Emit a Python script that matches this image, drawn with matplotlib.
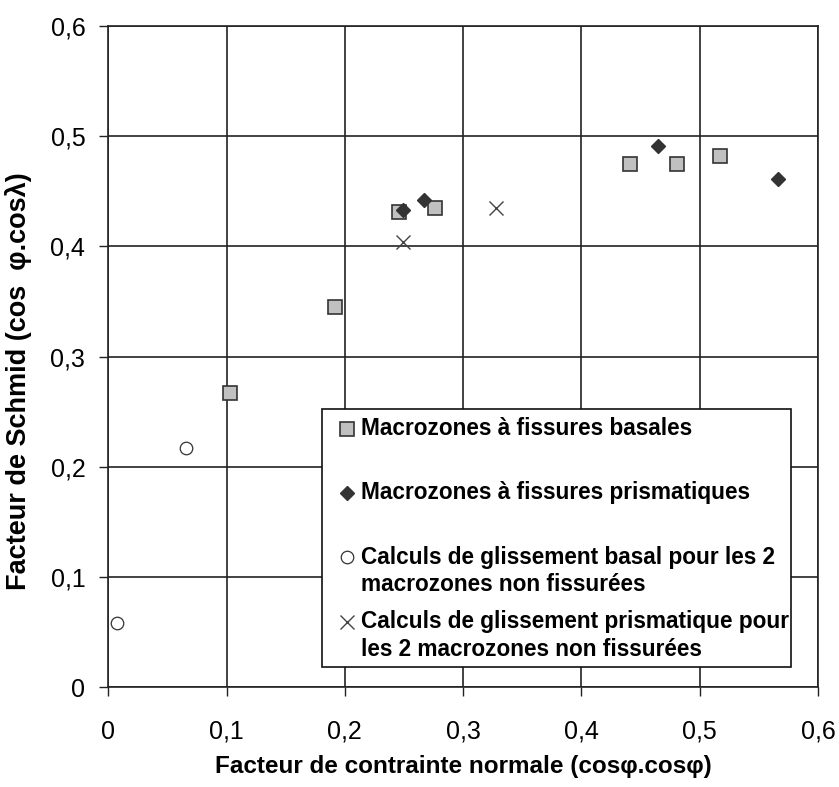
import matplotlib.pyplot as plt
from matplotlib.patches import Rectangle
from matplotlib.ticker import FuncFormatter

plt.rcParams["font.family"] = ["Liberation Sans", "DejaVu Sans"]

# -------------------------
# Data
# -------------------------

basal_x = [0.103, 0.192, 0.246, 0.276, 0.441, 0.481, 0.517]
basal_y = [0.267, 0.345, 0.431, 0.435, 0.475, 0.475, 0.482]

prism_x = [0.249, 0.267, 0.465, 0.566]
prism_y = [0.433, 0.442, 0.491, 0.461]

calc_basal_x = [0.007, 0.066]
calc_basal_y = [0.058, 0.217]

calc_prism_x = [0.249, 0.328]
calc_prism_y = [0.404, 0.435]

ticks = [0, 0.1, 0.2, 0.3, 0.4, 0.5, 0.6]

legend_lines = [
    ["Macrozones à fissures basales"],
    ["Macrozones à fissures prismatiques"],
    ["Calculs de glissement basal pour les 2", "macrozones non fissurées"],
    ["Calculs de glissement prismatique pour", "les 2 macrozones non fissurées"],
]

# -------------------------
# Figure
# -------------------------

fig = plt.figure(figsize=(8.39, 7.87), dpi=100)
ax = fig.add_axes([0.129, 0.1267, 0.8459, 0.8403])

ax.set_xlim(0, 0.6)
ax.set_ylim(0, 0.6)
ax.set_xticks(ticks)
ax.set_yticks(ticks)
fmt = FuncFormatter(lambda v, p: ("%g" % round(v, 1)).replace(".", ","))
ax.xaxis.set_major_formatter(fmt)
ax.yaxis.set_major_formatter(fmt)

ax.grid(True, color="#222222", linewidth=1.2, zorder=0)
ax.set_axisbelow(True)
for s in ax.spines.values():
    s.set_color("#222222")
    s.set_linewidth(1.2)

ax.tick_params(direction="out", length=6.5, width=1.0, labelsize=18,
               color="#222222")
ax.tick_params(axis="y", pad=10)
ax.tick_params(axis="x", pad=17)

sq = dict(marker="s", markersize=9.6, markerfacecolor="#c0c0c0",
          markeredgecolor="#333333", markeredgewidth=1.2, linestyle="none")
di = dict(marker="D", markersize=7.3, markerfacecolor="#333333",
          markeredgecolor="#333333", markeredgewidth=1.0, linestyle="none")
ci = dict(marker="o", markersize=9.0, markerfacecolor="white",
          markeredgecolor="#333333", markeredgewidth=0.9, linestyle="none")
xx = dict(marker="x", markersize=9.6, markeredgecolor="#444444",
          markeredgewidth=1.0, linestyle="none")

ax.plot(basal_x, basal_y, zorder=3, **sq)
ax.plot(prism_x, prism_y, zorder=4, **di)
ax.plot(calc_basal_x, calc_basal_y, zorder=3, **ci)
ax.plot(calc_prism_x, calc_prism_y, zorder=3, **xx)

ax.set_xlabel("Facteur de contrainte normale (cosφ.cosφ)", fontsize=17.5,
              fontweight="bold")
ax.xaxis.set_label_coords(0.5, -0.102)
ax.set_ylabel("Facteur de Schmid (cos  φ.cosλ)", fontsize=19.5,
              fontweight="bold")
ax.yaxis.set_label_coords(-0.107, 0.463)

# -------------------------
# Legend box (drawn by hand)
# -------------------------

box = Rectangle((0.3007, 0.031), 0.6613, 0.3898, transform=ax.transAxes,
                facecolor="white", edgecolor="#111111", linewidth=1.2,
                zorder=5)
ax.add_patch(box)

entry_y = [0.3906, 0.2943, 0.1966, 0.0992]
line_gap = 0.0415
styles = [sq, di, ci, xx]

for ey, lines, st in zip(entry_y, legend_lines, styles):
    ax.plot([0.3368], [ey], transform=ax.transAxes, clip_on=False,
            zorder=6, **st)
    for k, line in enumerate(lines):
        ax.text(0.356, ey - k * line_gap, line, transform=ax.transAxes,
                fontsize=16.3, fontweight="bold", va="center", ha="left",
                zorder=6)

fig.savefig("out.png", dpi=100)
